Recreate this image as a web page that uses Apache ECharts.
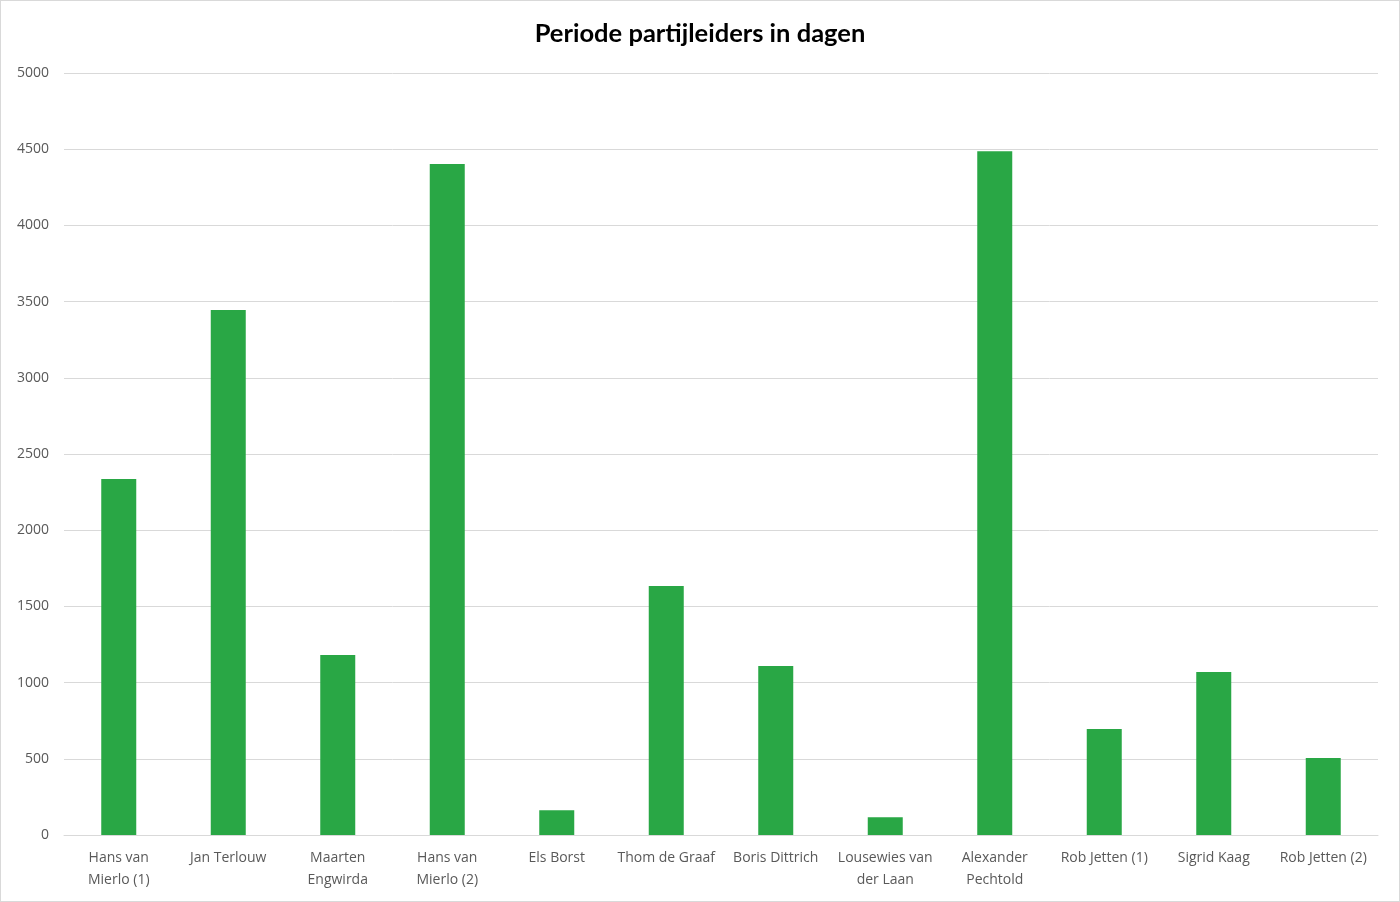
<!DOCTYPE html>
<html>
<head>
<meta charset="utf-8">
<script src="https://cdn.jsdelivr.net/npm/echarts@6/dist/echarts.min.js"></script>
<style>
html,body{margin:0;padding:0;background:#fff;}
#c{width:1400px;height:902px;box-sizing:border-box;border:1px solid #d9d9d9;}
</style>
</head>
<body>
<div id="c"></div>
<script>
const title = "Periode partijleiders in dagen";
const categories = ["Hans van\nMierlo (1)", "Jan Terlouw", "Maarten\nEngwirda", "Hans van\nMierlo (2)", "Els Borst", "Thom de Graaf", "Boris Dittrich", "Lousewies van\nder Laan", "Alexander\nPechtold", "Rob Jetten (1)", "Sigrid Kaag", "Rob Jetten (2)"];
const days = [2336, 3445, 1181, 4403, 162, 1634, 1109, 116, 4486, 696, 1070, 505];

const chart = echarts.init(document.getElementById('c'));
chart.setOption({
  animation: false,
  title: {
    text: title, left: 'center', top: 15,
    textStyle: {fontFamily: 'Lato', fontWeight: 'bold', fontSize: 25.5, color: '#000'}
  },
  grid: {left: 63, right: 21, top: 72, bottom: 66},
  xAxis: {
    type: 'category', data: categories,
    axisLine: {lineStyle: {color: '#d9d9d9'}},
    axisTick: {show: false},
    axisLabel: {color: '#595959', fontFamily: 'Open Sans', fontSize: 14, lineHeight: 22, margin: 12, interval: 0}
  },
  yAxis: {
    type: 'value', min: 0, max: 5000, interval: 500,
    axisLine: {show: false}, axisTick: {show: false},
    splitLine: {lineStyle: {color: '#d9d9d9'}},
    axisLabel: {color: '#595959', fontFamily: 'Open Sans', fontSize: 14, margin: 15,
      formatter: function (v) { return String(v); }}
  },
  series: [{
    type: 'bar', data: days, barWidth: 35,
    itemStyle: {color: '#29a745'}
  }]
});
</script>
</body>
</html>
